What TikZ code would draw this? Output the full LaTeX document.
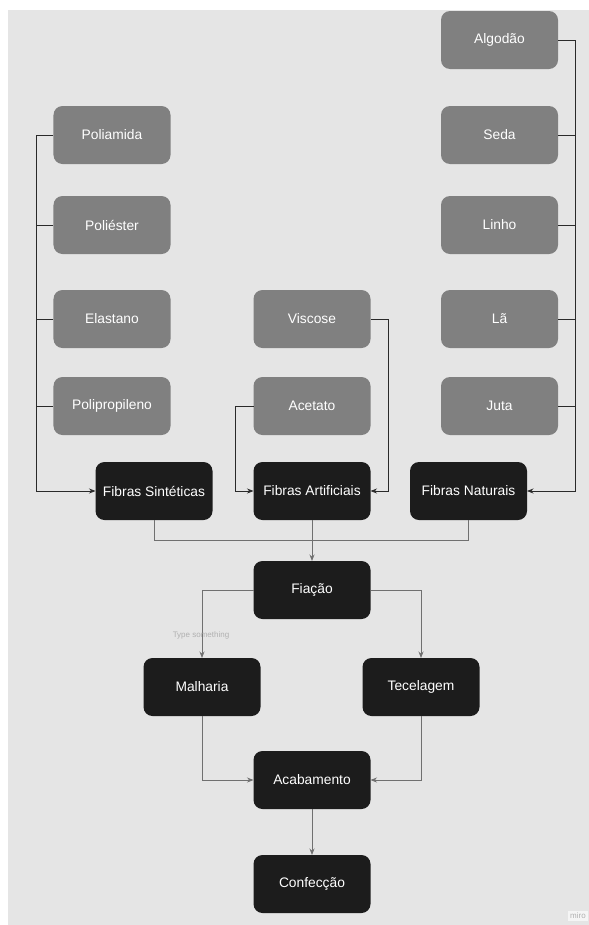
\documentclass[tikz,border=0pt]{standalone}
\usepackage{fontspec}
\setmainfont{Liberation Sans}
\usetikzlibrary{arrows.meta}
\definecolor{bg}{HTML}{E5E5E5}
\definecolor{srcfill}{HTML}{808080}
\definecolor{grpfill}{HTML}{1C1C1C}
\definecolor{linedark}{HTML}{2A2A2A}
\definecolor{linegray}{HTML}{707070}
\definecolor{faint}{HTML}{B0B0B0}
\tikzset{
  basebox/.style={rounded corners=9bp, minimum width=117bp, minimum height=58bp,
    inner sep=0pt, outer sep=0pt, text=white, font=\fontsize{13.8bp}{16bp}\selectfont},
  srcbox/.style={basebox, fill=srcfill},
  grpbox/.style={basebox, fill=grpfill},
  dk/.style={draw=linedark, line width=0.8bp},
  gr/.style={draw=linegray, line width=0.8bp},
  arr/.style={-{Stealth[length=6.5bp,width=5bp]}},
}
\begin{document}
\begin{tikzpicture}[x=1bp,y=-1bp]
\useasboundingbox (0,0) rectangle (589,925);
\fill[bg] (8,10) rectangle (589,925);

% source nodes
\node[srcbox] (al) at (499.5,40) {Algodão};
\node[srcbox] (se) at (499.5,135) {Seda};
\node[srcbox] (li) at (499.5,225) {Linho};
\node[srcbox] (la) at (499.5,319) {Lã};
\node[srcbox] (ju) at (499.5,406) {Juta};
\node[srcbox] (pa) at (112,135) {Poliamida};
\node[srcbox] (pe) at (112,225) {Poliéster};
\node[srcbox] (el) at (112,319) {Elastano};
\node[srcbox] (pp) at (112,406) {Polipropileno};
\node[srcbox] (vi) at (312,319) {Viscose};
\node[srcbox] (ac) at (312,406) {Acetato};

% group / process nodes
\node[grpbox] (fs) at (154,491) {Fibras Sintéticas};
\node[grpbox] (fa) at (312,491) {Fibras Artificiais};
\node[grpbox] (fn) at (468.5,491) {Fibras Naturais};
\node[grpbox] (fi) at (312,590) {Fiação};
\node[grpbox] (ma) at (202,687) {Malharia};
\node[grpbox] (te) at (421,687) {Tecelagem};
\node[grpbox] (acb) at (312,780) {Acabamento};
\node[grpbox] (co) at (312,884) {Confecção};

% bus coordinates
\coordinate (lb) at (36,0);
\coordinate (rb) at (575,0);
\coordinate (vb) at (388,0);
\coordinate (ab) at (235,0);
\coordinate (jy) at (0,540);

% synthetic
\draw[dk,arr] (pa.west) -- (pa.west -| lb) |- (fs.west);
\draw[dk] (pe.west) -- (pe.west -| lb);
\draw[dk] (el.west) -- (el.west -| lb);
\draw[dk] (pp.west) -- (pp.west -| lb);
% artificial
\draw[dk,arr] (vi.east) -- (vi.east -| vb) |- (fa.east);
\draw[dk,arr] (ac.west) -- (ac.west -| ab) |- (fa.west);
% natural
\draw[dk,arr] (al.east) -- (al.east -| rb) |- (fn.east);
\draw[dk] (se.east) -- (se.east -| rb);
\draw[dk] (li.east) -- (li.east -| rb);
\draw[dk] (la.east) -- (la.east -| rb);
\draw[dk] (ju.east) -- (ju.east -| rb);

% to fiacao
\draw[gr] (fs.south) -- (fs.south |- jy) -| (fn.south);
\draw[gr,arr] (fa.south) -- (fi.north);
\draw[gr,arr] (fi.west) -| (ma.north);
\draw[gr,arr] (fi.east) -| (te.north);
\draw[gr,arr] (ma.south) |- (acb.west);
\draw[gr,arr] (te.south) |- (acb.east);
\draw[gr,arr] (acb.south) -- (co.north);

\node[text=faint, font=\fontsize{8bp}{9bp}\selectfont, inner sep=0pt] (ts) at (201,635) {Type something};
\node[text=faint, fill=white!60!bg, font=\fontsize{8bp}{9bp}\selectfont, inner sep=2bp] (mi) at (578,916) {miro};
\end{tikzpicture}
\end{document}
